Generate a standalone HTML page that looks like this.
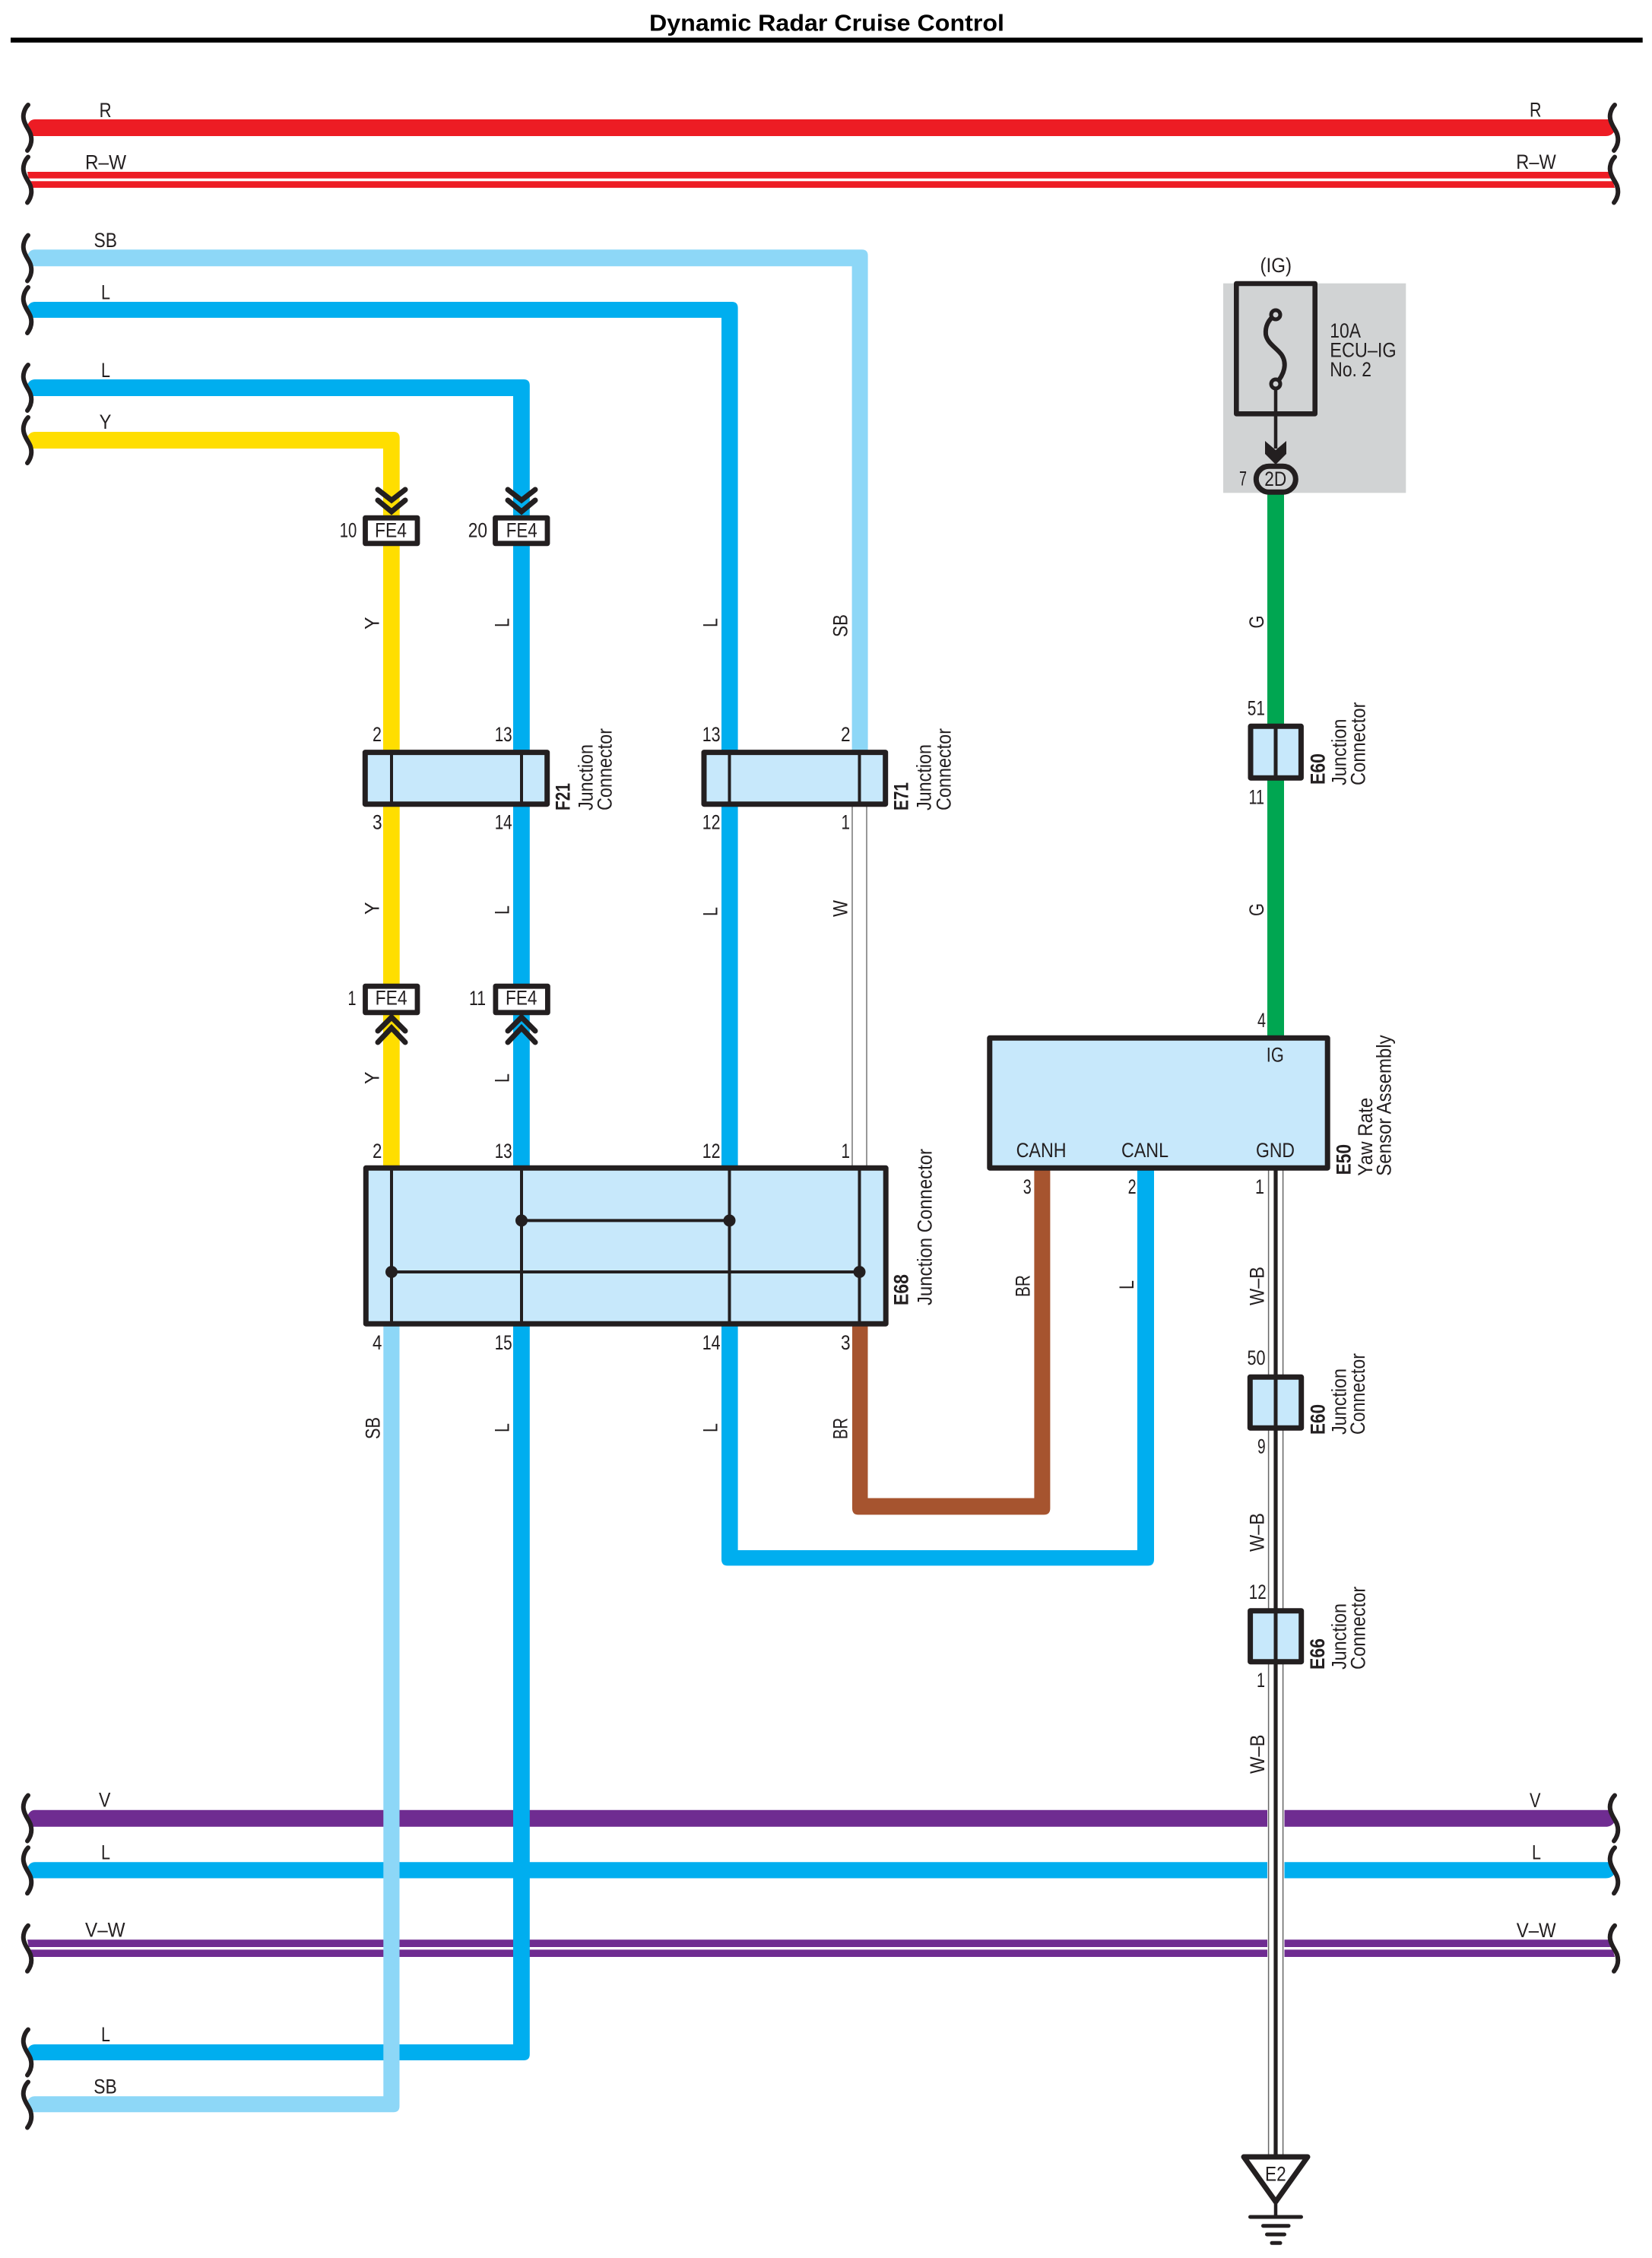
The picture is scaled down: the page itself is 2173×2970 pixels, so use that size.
<!DOCTYPE html>
<html lang="en">
<head>
<meta charset="utf-8">
<title>Dynamic Radar Cruise Control</title>
<style>
html,body{margin:0;padding:0;background:#fff;width:2173px;height:2970px;overflow:hidden}
svg{display:block}
text{font-family:"Liberation Sans",sans-serif;font-size:27px;fill:#231f20}
.b{font-weight:bold}
.m{text-anchor:middle}
</style>
</head>
<body>
<svg width="2173" height="2970" viewBox="0 0 2173 2970" xmlns="http://www.w3.org/2000/svg">
<defs>
<path id="br" d="M37,-30 C32,-25 30,-17 31,-12 C32,-4 38,2 40,8 C42,14 42,22 36,30" fill="none" stroke="#231f20" stroke-width="6" stroke-linecap="round"/>
</defs>
<rect width="2173" height="2970" fill="#fff"/>

<!-- title -->
<text x="854" y="40.7" class="b" style="font-size:31px;fill:#000" textLength="467" lengthAdjust="spacingAndGlyphs">Dynamic Radar Cruise Control</text>
<rect x="14" y="49.5" width="2146.7" height="6.5" fill="#000"/>

<!-- gray fuse block -->
<rect x="1609" y="372.7" width="240.3" height="275.6" fill="#d1d3d4"/>

<!-- long horizontal wires -->
<path d="M46,157 Q39,157 36,165 L42,179 H2112 Q2120,179 2124,172 L2118,157 Z" fill="#ed1c24"/>
<path d="M36,226 H2118 L2124,247 H40 Z" fill="#ed1c24"/>
<rect x="36" y="234.7" width="2090" height="3.6" fill="#fff"/>
<path d="M46,2380.7 Q39,2380.7 36,2389 L42,2402.8 H2112 Q2120,2402.8 2124,2396 L2118,2380.7 Z" fill="#6f2c91"/>
<path d="M46,2449.3 Q39,2449.3 36,2457 L42,2470.5 H2112 Q2120,2470.5 2124,2464 L2118,2449.3 Z" fill="#00aeef"/>
<path d="M36,2551.3 H2118 L2124,2574 H40 Z" fill="#6f2c91"/>
<rect x="36" y="2561" width="2090" height="3.4" fill="#fff"/>

<!-- routed wires -->
<path d="M46,328.3 Q39,328.3 36,336 L42,350.3 H1120.6 V1000 H1141.6 V336.3 Q1141.6,328.3 1133.6,328.3 Z" fill="#8dd7f7"/>
<path d="M46,397 Q39,397 36,404 L42,418 H949 V1540 H970.6 V405 Q970.6,397 962.6,397 Z" fill="#00aeef"/>
<path d="M46,499 Q39,499 36,506 L42,521 H675 V1540 H696.8 V507 Q696.8,499 688.8,499 Z" fill="#00aeef"/>
<path d="M46,568 Q39,568 36,575 L42,590 H504 V1540 H525.7 V576 Q525.7,568 517.7,568 Z" fill="#ffde00"/>
<path d="M949,1735 V2051 Q949,2059.4 957,2059.4 H1510 Q1518,2059.4 1518,2051 V1530 H1496 V2039 H970.6 V1735 Z" fill="#00aeef"/>
<path d="M1121,1735 V1984 Q1121,1992.4 1129,1992.4 H1373 Q1381.4,1992.4 1381.4,1984 V1530 H1360.4 V1970.5 H1141.5 V1735 Z" fill="#a6542f"/>
<path d="M46,2689 Q39,2689 36,2696 L42,2710 H688.8 Q696.8,2710 696.8,2702 V1735 H675 V2689 Z" fill="#00aeef"/>
<path d="M46,2757.3 Q39,2757.3 36,2764 L42,2778.3 H517.5 Q525.5,2778.3 525.5,2770.3 V1735 H504.3 V2757.3 Z" fill="#8dd7f7"/>
<rect x="1667" y="650" width="22" height="715" fill="#00a651"/>

<!-- W wire -->
<rect x="1121" y="1058" width="19" height="478" fill="#fff"/>
<path d="M1121,1058 V1536 M1140,1058 V1536" stroke="#777" stroke-width="1.5" fill="none"/>

<!-- W-B wire -->
<rect x="1667" y="1536" width="22.5" height="1300" fill="#fff"/>
<path d="M1668.6,1536 V2836 M1687.6,1536 V2836" stroke="#666" stroke-width="1.5" fill="none"/>
<path d="M1678,1536 V2836" stroke="#231f20" stroke-width="5.2" fill="none"/>

<!-- braces left -->
<use href="#br" transform="translate(0,168)"/>
<use href="#br" transform="translate(0,236.5)"/>
<use href="#br" transform="translate(0,339.5)"/>
<use href="#br" transform="translate(0,408)"/>
<use href="#br" transform="translate(0,510)"/>
<use href="#br" transform="translate(0,579)"/>
<use href="#br" transform="translate(0,2391.5)"/>
<use href="#br" transform="translate(0,2460.3)"/>
<use href="#br" transform="translate(0,2562.8)"/>
<use href="#br" transform="translate(0,2699.5)"/>
<use href="#br" transform="translate(0,2768.5)"/>
<!-- braces right -->
<use href="#br" transform="translate(2087,168)"/>
<use href="#br" transform="translate(2087,236.5)"/>
<use href="#br" transform="translate(2087,2391.5)"/>
<use href="#br" transform="translate(2087,2460.3)"/>
<use href="#br" transform="translate(2087,2562.8)"/>

<!-- wire labels left -->
<text x="130.6" y="153.8" textLength="16" lengthAdjust="spacingAndGlyphs">R</text>
<text x="112" y="222.7" textLength="54" lengthAdjust="spacingAndGlyphs">R–W</text>
<text x="123.5" y="325" textLength="30.5" lengthAdjust="spacingAndGlyphs">SB</text>
<text x="133" y="393.5" textLength="12" lengthAdjust="spacingAndGlyphs">L</text>
<text x="133" y="496" textLength="12" lengthAdjust="spacingAndGlyphs">L</text>
<text x="130.6" y="564" textLength="15.8" lengthAdjust="spacingAndGlyphs">Y</text>
<text x="130" y="2376.7" textLength="15.4" lengthAdjust="spacingAndGlyphs">V</text>
<text x="133" y="2445.3" textLength="12" lengthAdjust="spacingAndGlyphs">L</text>
<text x="112" y="2547.3" textLength="52.6" lengthAdjust="spacingAndGlyphs">V–W</text>
<text x="133" y="2685" textLength="12" lengthAdjust="spacingAndGlyphs">L</text>
<text x="123.2" y="2753.3" textLength="30.6" lengthAdjust="spacingAndGlyphs">SB</text>
<!-- wire labels right -->
<text x="2012" y="153.3" textLength="15.5" lengthAdjust="spacingAndGlyphs">R</text>
<text x="1994.3" y="222" textLength="52.4" lengthAdjust="spacingAndGlyphs">R–W</text>
<text x="2012" y="2376.8" textLength="14.5" lengthAdjust="spacingAndGlyphs">V</text>
<text x="2015" y="2445.7" textLength="12" lengthAdjust="spacingAndGlyphs">L</text>
<text x="1994.7" y="2548" textLength="52" lengthAdjust="spacingAndGlyphs">V–W</text>

<!-- top chevrons + FE4 -->
<g fill="none" stroke="#231f20" stroke-width="7" stroke-linecap="round" stroke-linejoin="miter">
<path d="M497,644 L515,658 L533,644 M497,658 L515,673 L533,658"/>
<path d="M668,644 L686,658 L704,644 M668,658 L686,673 L704,658"/>
<path d="M497,1356 L515,1338 L533,1356 M497,1371 L515,1352 L533,1371"/>
<path d="M668,1356 L686,1338 L704,1356 M668,1371 L686,1352 L704,1371"/>
</g>
<g fill="#fff" stroke="#231f20" stroke-width="6.8" stroke-linejoin="round">
<rect x="480.5" y="681.2" width="68.5" height="33.6"/>
<rect x="651.5" y="681.2" width="68.5" height="33.6"/>
<rect x="480.5" y="1297.2" width="68.5" height="34.6"/>
<rect x="651.9" y="1297.2" width="68.5" height="34.6"/>
</g>
<text x="493" y="706.7" textLength="42" lengthAdjust="spacingAndGlyphs">FE4</text>
<text x="665.7" y="706.7" textLength="41" lengthAdjust="spacingAndGlyphs">FE4</text>
<text x="493.6" y="1321.7" textLength="42" lengthAdjust="spacingAndGlyphs">FE4</text>
<text x="665" y="1321.7" textLength="41.5" lengthAdjust="spacingAndGlyphs">FE4</text>
<text x="446.7" y="706.7" textLength="22.6" lengthAdjust="spacingAndGlyphs">10</text>
<text x="615.7" y="706.7" textLength="25.3" lengthAdjust="spacingAndGlyphs">20</text>
<text x="457.5" y="1322" textLength="11" lengthAdjust="spacingAndGlyphs">1</text>
<text x="617" y="1322" textLength="22" lengthAdjust="spacingAndGlyphs">11</text>

<!-- F21 / E71 -->
<g fill="#c7e8fb" stroke="#231f20" stroke-width="7" stroke-linejoin="round">
<rect x="480.3" y="989.6" width="239.4" height="68.1"/>
<rect x="926" y="989.6" width="238.7" height="68.1"/>
<rect x="481.3" y="1536.3" width="683.9" height="204.9"/>
<rect x="1301.8" y="1365.3" width="444.4" height="170.9"/>
<rect x="1645" y="955.3" width="66.4" height="67.9"/>
<rect x="1644.3" y="1811.3" width="67.4" height="66.9"/>
<rect x="1644.6" y="2118.7" width="67.1" height="67"/>
</g>
<g stroke="#231f20" stroke-width="4" fill="none">
<path d="M515,989 V1058 M686,989 V1058 M959.5,989 V1058 M1130.5,989 V1058"/>
<path d="M515,1536 V1741 M686,1536 V1741 M959.5,1536 V1741 M1130.5,1536 V1741"/>
<path d="M686,1605.4 H959.5 M515,1673 H1130.5"/>
</g>
<path d="M1678,955 V1023.5 M1678,1811 V1878.5 M1678,2118 V2186" stroke="#231f20" stroke-width="5" fill="none"/>
<g fill="#231f20">
<circle cx="686" cy="1605.4" r="8"/>
<circle cx="959.5" cy="1605.4" r="8"/>
<circle cx="515" cy="1673" r="8"/>
<circle cx="1130.5" cy="1673" r="8"/>
</g>

<!-- pin numbers -->
<text x="490" y="975" textLength="12" lengthAdjust="spacingAndGlyphs">2</text>
<text x="650.7" y="975" textLength="23" lengthAdjust="spacingAndGlyphs">13</text>
<text x="923.7" y="975" textLength="23.9" lengthAdjust="spacingAndGlyphs">13</text>
<text x="1106" y="975" textLength="12.6" lengthAdjust="spacingAndGlyphs">2</text>
<text x="490" y="1090.7" textLength="12.6" lengthAdjust="spacingAndGlyphs">3</text>
<text x="650.7" y="1090.7" textLength="23" lengthAdjust="spacingAndGlyphs">14</text>
<text x="923.7" y="1090.7" textLength="23.9" lengthAdjust="spacingAndGlyphs">12</text>
<text x="1106.5" y="1090.7" textLength="11.5" lengthAdjust="spacingAndGlyphs">1</text>
<text x="490" y="1522.8" textLength="12.4" lengthAdjust="spacingAndGlyphs">2</text>
<text x="650.7" y="1522.8" textLength="23" lengthAdjust="spacingAndGlyphs">13</text>
<text x="923.7" y="1522.8" textLength="23.9" lengthAdjust="spacingAndGlyphs">12</text>
<text x="1106.5" y="1522.8" textLength="11.5" lengthAdjust="spacingAndGlyphs">1</text>
<text x="490" y="1775" textLength="12.4" lengthAdjust="spacingAndGlyphs">4</text>
<text x="650.7" y="1775" textLength="23" lengthAdjust="spacingAndGlyphs">15</text>
<text x="923.7" y="1775" textLength="23.9" lengthAdjust="spacingAndGlyphs">14</text>
<text x="1106" y="1775" textLength="12.6" lengthAdjust="spacingAndGlyphs">3</text>
<text x="1345.8" y="1570" textLength="11" lengthAdjust="spacingAndGlyphs">3</text>
<text x="1483.6" y="1570" textLength="11" lengthAdjust="spacingAndGlyphs">2</text>
<text x="1651" y="1570" textLength="12" lengthAdjust="spacingAndGlyphs">1</text>
<text x="1654" y="1351" textLength="11" lengthAdjust="spacingAndGlyphs">4</text>
<text x="1640.8" y="940.3" textLength="23.2" lengthAdjust="spacingAndGlyphs">51</text>
<text x="1642.5" y="1057.7" textLength="20.5" lengthAdjust="spacingAndGlyphs">11</text>
<text x="1640.5" y="1795" textLength="24" lengthAdjust="spacingAndGlyphs">50</text>
<text x="1654" y="1911.4" textLength="10.6" lengthAdjust="spacingAndGlyphs">9</text>
<text x="1642.8" y="2103" textLength="23" lengthAdjust="spacingAndGlyphs">12</text>
<text x="1653" y="2219" textLength="11" lengthAdjust="spacingAndGlyphs">1</text>

<!-- rotated wire labels -->
<text transform="translate(498.5,1203) rotate(-90)" textLength="16.5" lengthAdjust="spacingAndGlyphs">Y</text>
<text transform="translate(669.5,1203) rotate(-90)" textLength="12" lengthAdjust="spacingAndGlyphs">L</text>
<text transform="translate(498.5,828) rotate(-90)" textLength="16.5" lengthAdjust="spacingAndGlyphs">Y</text>
<text transform="translate(669.5,825) rotate(-90)" textLength="12" lengthAdjust="spacingAndGlyphs">L</text>
<text transform="translate(943.5,825) rotate(-90)" textLength="12" lengthAdjust="spacingAndGlyphs">L</text>
<text transform="translate(1114.5,838) rotate(-90)" textLength="30" lengthAdjust="spacingAndGlyphs">SB</text>
<text transform="translate(943.5,1205) rotate(-90)" textLength="12" lengthAdjust="spacingAndGlyphs">L</text>
<text transform="translate(1114.5,1206) rotate(-90)" textLength="22" lengthAdjust="spacingAndGlyphs">W</text>
<text transform="translate(498.5,1426) rotate(-90)" textLength="16.5" lengthAdjust="spacingAndGlyphs">Y</text>
<text transform="translate(669.5,1424) rotate(-90)" textLength="12" lengthAdjust="spacingAndGlyphs">L</text>
<text transform="translate(499.5,1893) rotate(-90)" textLength="29" lengthAdjust="spacingAndGlyphs">SB</text>
<text transform="translate(669.5,1884) rotate(-90)" textLength="12" lengthAdjust="spacingAndGlyphs">L</text>
<text transform="translate(943.5,1884) rotate(-90)" textLength="12" lengthAdjust="spacingAndGlyphs">L</text>
<text transform="translate(1114.5,1893) rotate(-90)" textLength="28" lengthAdjust="spacingAndGlyphs">BR</text>
<text transform="translate(1354.4,1706) rotate(-90)" textLength="29" lengthAdjust="spacingAndGlyphs">BR</text>
<text transform="translate(1491,1696) rotate(-90)" textLength="12" lengthAdjust="spacingAndGlyphs">L</text>
<text transform="translate(1662,826.5) rotate(-90)" textLength="17" lengthAdjust="spacingAndGlyphs">G</text>
<text transform="translate(1662,1205) rotate(-90)" textLength="17" lengthAdjust="spacingAndGlyphs">G</text>
<text transform="translate(1662.5,1717) rotate(-90)" textLength="51" lengthAdjust="spacingAndGlyphs">W–B</text>
<text transform="translate(1662.5,2041) rotate(-90)" textLength="51" lengthAdjust="spacingAndGlyphs">W–B</text>
<text transform="translate(1663,2333) rotate(-90)" textLength="51.5" lengthAdjust="spacingAndGlyphs">W–B</text>

<!-- connector names -->
<text class="b" transform="translate(749.5,1066) rotate(-90)" textLength="36" lengthAdjust="spacingAndGlyphs">F21</text>
<text transform="translate(779.5,1066) rotate(-90)" textLength="87" lengthAdjust="spacingAndGlyphs">Junction</text>
<text transform="translate(804.5,1066) rotate(-90)" textLength="108" lengthAdjust="spacingAndGlyphs">Connector</text>
<text class="b" transform="translate(1194.5,1066) rotate(-90)" textLength="37" lengthAdjust="spacingAndGlyphs">E71</text>
<text transform="translate(1224.5,1066) rotate(-90)" textLength="87" lengthAdjust="spacingAndGlyphs">Junction</text>
<text transform="translate(1250.5,1066) rotate(-90)" textLength="108" lengthAdjust="spacingAndGlyphs">Connector</text>
<text class="b" transform="translate(1194.5,1717) rotate(-90)" textLength="41" lengthAdjust="spacingAndGlyphs">E68</text>
<text transform="translate(1225.5,1717) rotate(-90)" textLength="206" lengthAdjust="spacingAndGlyphs">Junction Connector</text>
<text class="b" transform="translate(1742.3,1032) rotate(-90)" textLength="41" lengthAdjust="spacingAndGlyphs">E60</text>
<text transform="translate(1770.5,1033) rotate(-90)" textLength="87.5" lengthAdjust="spacingAndGlyphs">Junction</text>
<text transform="translate(1795.5,1033) rotate(-90)" textLength="109.5" lengthAdjust="spacingAndGlyphs">Connector</text>
<text class="b" transform="translate(1742.5,1887) rotate(-90)" textLength="40" lengthAdjust="spacingAndGlyphs">E60</text>
<text transform="translate(1770.3,1887) rotate(-90)" textLength="87" lengthAdjust="spacingAndGlyphs">Junction</text>
<text transform="translate(1795.1,1887) rotate(-90)" textLength="107" lengthAdjust="spacingAndGlyphs">Connector</text>
<text class="b" transform="translate(1741.8,2196) rotate(-90)" textLength="41" lengthAdjust="spacingAndGlyphs">E66</text>
<text transform="translate(1770.3,2196) rotate(-90)" textLength="87" lengthAdjust="spacingAndGlyphs">Junction</text>
<text transform="translate(1795.5,2196) rotate(-90)" textLength="109.3" lengthAdjust="spacingAndGlyphs">Connector</text>
<text class="b" transform="translate(1776.7,1545.4) rotate(-90)" textLength="40.4" lengthAdjust="spacingAndGlyphs">E50</text>
<text transform="translate(1805,1546.7) rotate(-90)" textLength="103" lengthAdjust="spacingAndGlyphs">Yaw Rate</text>
<text transform="translate(1829.5,1546.7) rotate(-90)" textLength="185.3" lengthAdjust="spacingAndGlyphs">Sensor Assembly</text>

<!-- E50 pins -->
<text x="1665.8" y="1396.7" textLength="23" lengthAdjust="spacingAndGlyphs">IG</text>
<text x="1336.6" y="1522" textLength="66" lengthAdjust="spacingAndGlyphs">CANH</text>
<text x="1475" y="1522" textLength="62" lengthAdjust="spacingAndGlyphs">CANL</text>
<text x="1652" y="1522" textLength="51" lengthAdjust="spacingAndGlyphs">GND</text>

<!-- fuse -->
<rect x="1626.3" y="373" width="103.4" height="171.3" fill="none" stroke="#231f20" stroke-width="6.6" stroke-linejoin="round"/>
<path d="M1678,414 C1668,420 1664,430 1665,440 C1667,452 1680,458 1686,467 C1693,478 1690,492 1678,505" fill="none" stroke="#231f20" stroke-width="6"/>
<circle cx="1678" cy="414" r="6" fill="#d1d3d4" stroke="#231f20" stroke-width="5"/>
<circle cx="1678" cy="505" r="6" fill="#d1d3d4" stroke="#231f20" stroke-width="5"/>
<path d="M1678,511 V590" stroke="#231f20" stroke-width="4.5" fill="none"/>
<polygon points="1664,580 1678,592 1692,580 1692,597 1678,611 1664,597" fill="#231f20"/>
<rect x="1652.3" y="613.3" width="52" height="34" rx="17" ry="17" fill="#d1d3d4" stroke="#231f20" stroke-width="7"/>
<text x="1663.3" y="639" textLength="29" lengthAdjust="spacingAndGlyphs">2D</text>
<text x="1630" y="638.5" textLength="10" lengthAdjust="spacingAndGlyphs">7</text>
<text x="1657.5" y="358" textLength="41.5" lengthAdjust="spacingAndGlyphs">(IG)</text>
<text x="1749.3" y="444" textLength="40.7" lengthAdjust="spacingAndGlyphs">10A</text>
<text x="1749.3" y="469.3" textLength="87.4" lengthAdjust="spacingAndGlyphs">ECU–IG</text>
<text x="1749.3" y="495" textLength="54.7" lengthAdjust="spacingAndGlyphs">No. 2</text>

<!-- ground -->
<path d="M1636,2837 H1720 L1678,2896 Z" fill="#fff" stroke="#231f20" stroke-width="7" stroke-linejoin="round"/>
<text x="1664" y="2868.3" textLength="27.7" lengthAdjust="spacingAndGlyphs">E2</text>
<path d="M1678,2896 V2916" stroke="#231f20" stroke-width="4.5" fill="none"/>
<g stroke="#231f20" stroke-width="5" stroke-linecap="round" fill="none">
<path d="M1644.5,2916 H1711.5"/>
<path d="M1661.5,2927.7 H1695"/>
<path d="M1666.5,2939 H1689.5"/>
<path d="M1673,2950.3 H1684"/>
</g>
</svg>
</body>
</html>
